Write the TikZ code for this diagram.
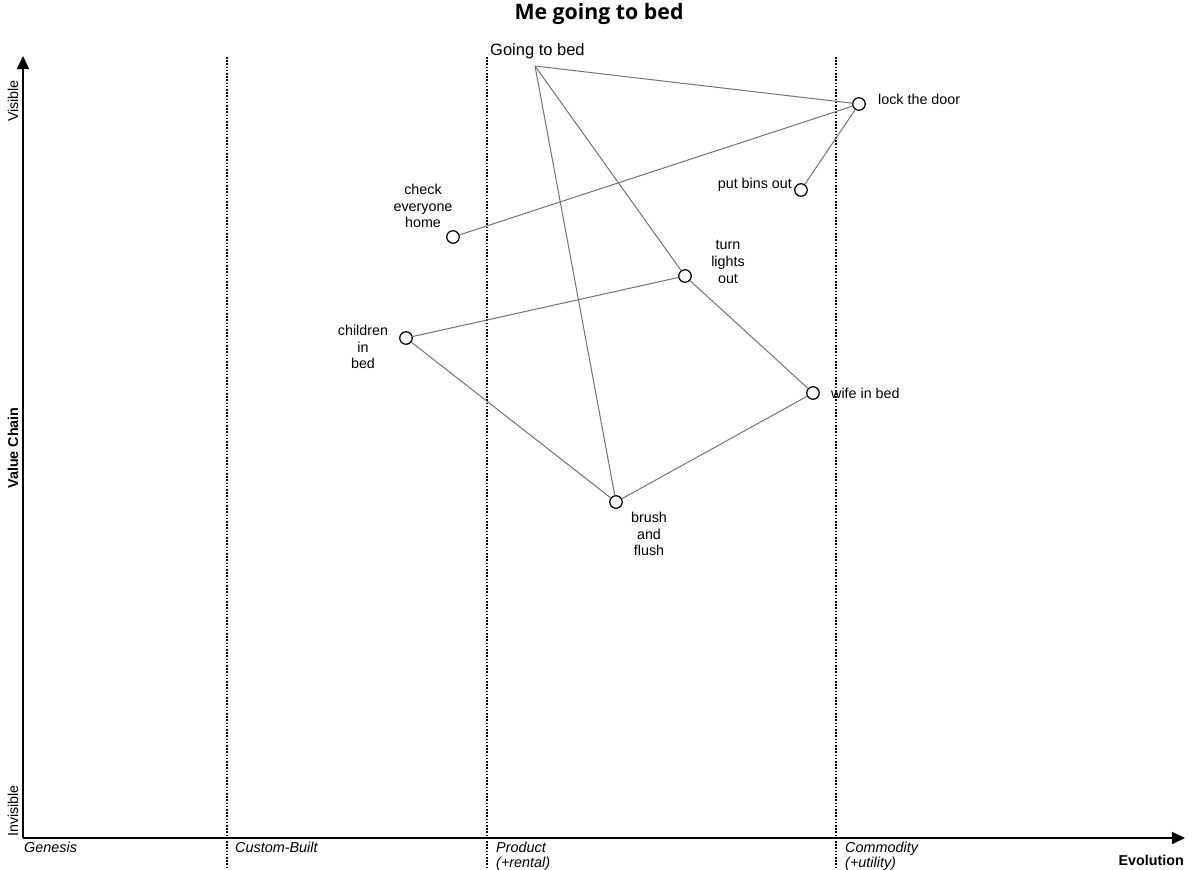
\documentclass[tikz,border=0pt]{standalone}
\usepackage{fontspec}
\setmainfont{Liberation Sans}
\newfontfamily\titlefont{Open Sans}
\usetikzlibrary{arrows.meta}
\begin{document}
\begin{tikzpicture}[x=1pt,y=-1pt,
  comp/.style={circle,draw=black,fill=white,line width=1.2pt,minimum size=12.5pt,inner sep=0pt},
  lbl/.style={font=\fontsize{14.3}{16.6}\selectfont,align=center,inner sep=0pt},
  edge/.style={draw=black!55,line width=1pt},
  evo/.style={draw=black,line width=1.1pt,dash pattern=on 1.6pt off 1.6pt},
  axis/.style={draw=black,line width=1.6pt,-{Triangle[length=13pt,width=12pt]}},
  stage/.style={font=\fontsize{14.4}{14}\selectfont\itshape,align=left,anchor=north west,inner sep=0pt}]
\useasboundingbox (0,0) rectangle (1200,870);
\fill[white] (0,0) rectangle (1200,870);
% title
\node[font=\titlefont\bfseries\fontsize{21.3}{24}\selectfont] (title) at (599,14) {Me going to bed};
% evolution lines
\coordinate (e1t) at (227,57); \coordinate (e1b) at (227,868);
\coordinate (e2t) at (487,57); \coordinate (e2b) at (487,868);
\coordinate (e3t) at (836,57); \coordinate (e3b) at (836,868);
\draw[evo] (e1t) -- (e1b);
\draw[evo] (e2t) -- (e2b);
\draw[evo] (e3t) -- (e3b);
% axes
\coordinate (origin) at (23,838);
\coordinate (ytop) at (23,56);
\coordinate (xend) at (1185,838);
\draw[axis] (origin) -- (ytop);
\draw[axis] (origin) -- (xend);
% axis labels
\node[lbl,rotate=90] (visible) at (13,101) {Visible};
\node[lbl,rotate=90] (invisible) at (13,811) {Invisible};
\node[lbl,rotate=90,font=\fontsize{14.3}{14}\selectfont\bfseries] (vc) at (13,448) {Value Chain};
\node[lbl,font=\fontsize{14.3}{14}\selectfont\bfseries,anchor=base east] (evol) at (1184,865) {Evolution};
\node[stage] (genesis) at (24,842) {Genesis};
\node[stage] (custom) at (235,842) {Custom-Built};
\node[stage,font=\fontsize{14.4}{14.5}\selectfont\itshape] (product) at (496,842) {Product\\(+rental)};
\node[stage,font=\fontsize{14.4}{14.5}\selectfont\itshape] (commodity) at (845,842) {Commodity\\(+utility)};
% anchor / user
\node[lbl,font=\fontsize{16.5}{18}\selectfont,anchor=base west] (user) at (490,55) {Going to bed};
\coordinate (userpt) at (535,66);
% components
\node[comp] (lock) at (859,104) {};
\node[comp] (bins) at (801,190) {};
\node[comp] (check) at (453,237) {};
\node[comp] (lights) at (685,276) {};
\node[comp] (children) at (406,338) {};
\node[comp] (wife) at (813,393) {};
\node[comp] (brush) at (616,502) {};
% labels
\node[lbl,anchor=west] (locklbl) at (878,99) {lock the door};
\node[lbl,anchor=east] (binslbl) at (792,185) {put bins out};
\node[lbl] (checklbl) at (423,206) {check\\everyone\\home};
\node[lbl] (lightslbl) at (728,262) {turn\\lights\\out};
\node[lbl] (childrenlbl) at (363,347) {children\\in\\bed};
\node[lbl,anchor=west] (wifelbl) at (831,393) {wife in bed};
\node[lbl] (brushlbl) at (649,534) {brush\\and\\flush};
% edges
\path[edge] (userpt) -- (lock);
\path[edge] (userpt) -- (lights);
\path[edge] (userpt) -- (brush);
\path[edge] (lock) -- (check);
\path[edge] (lock) -- (bins);
\path[edge] (lights) -- (children);
\path[edge] (lights) -- (wife);
\path[edge] (children) -- (brush);
\path[edge] (brush) -- (wife);
\end{tikzpicture}
\end{document}
